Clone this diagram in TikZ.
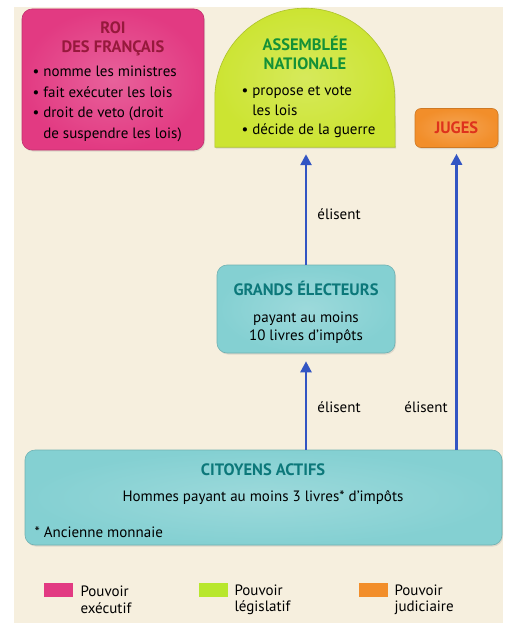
\documentclass[tikz,border=0pt]{standalone}
\usepackage{fontspec}
\setmainfont{PT Sans}
\usetikzlibrary{arrows.meta,positioning,shadows}
\definecolor{cbeige}{RGB}{246,239,222}
\definecolor{cpink}{RGB}{226,58,130}
\definecolor{cpinkt}{RGB}{150,25,60}
\definecolor{clime}{RGB}{204,228,50}
\definecolor{climet}{RGB}{20,145,55}
\definecolor{corange}{RGB}{242,142,42}
\definecolor{coranget}{RGB}{222,50,28}
\definecolor{cteal}{RGB}{132,208,210}
\definecolor{ctealt}{RGB}{12,120,122}
\definecolor{cblue}{RGB}{50,85,195}

\begin{document}
\begin{tikzpicture}[x=1pt,y=-1pt,>={Triangle[length=11pt,width=11pt]},
  box/.style={rounded corners=10pt,draw=#1!85!black,inner color=#1!80!white,outer color=#1,
    line width=0.6pt,drop shadow={opacity=0.2,shadow xshift=1pt,shadow yshift=-1.5pt}},
  title node/.style={font=\bfseries\fontsize{16.5}{19}\selectfont,align=center},
  list node/.style={font=\fontsize{15}{20.5}\selectfont,align=left,anchor=west},
  vote/.style={font=\fontsize{15}{17}\selectfont},
  key box/.style={minimum width=29pt,minimum height=14pt,inner sep=0pt},
  key text/.style={font=\fontsize{15}{16.5}\selectfont,align=left,anchor=west},
  link/.style={->,draw=cblue,line width=2.5pt}]
  \path[fill=white] (0,0) rectangle (508,626);
  \fill[cbeige] (14,7) rectangle (503,623);

  % executive
  \node[box=cpink,minimum width=182pt,minimum height=141pt] (roi) at (113,79.5) {};
  \node[title node,text=cpinkt] (roititle) at (113,38.5) {ROI\\DES FRANÇAIS};
  \node[list node] (roilist) at (29,104) {• nomme les ministres\\• fait exécuter les lois\\
    • droit de veto (droit\\\hphantom{• }de suspendre les lois)};

  % legislative
  \node[minimum width=180pt,minimum height=139pt] (assemblee) at (305,77.5) {};
  \path[draw=clime!85!black,inner color=clime!80!white,outer color=clime,line width=0.6pt,
    drop shadow={opacity=0.2,shadow xshift=1pt,shadow yshift=-1.5pt}]
    (assemblee.south west) -- ++(0,-49)
    arc[start angle=180,end angle=0,x radius=90pt,y radius=90pt]
    -- (assemblee.south east) -- cycle;
  \node[title node,text=climet] (assembleetitle) at (305,53) {ASSEMBLÉE\\NATIONALE};
  \node[list node,font=\fontsize{15}{19.5}\selectfont] (assembleelist) at (238,112)
    {• propose et vote\\\hphantom{• }les lois\\• décide de la guerre};

  % judiciary
  \node[box=corange,rounded corners=6pt,minimum width=83pt,minimum height=39pt,
    title node,text=coranget] (juges) at (456.5,128) {JUGES};

  % electors
  \node[box=cteal,minimum width=178pt,minimum height=88pt] (grands) at (306,309) {};
  \node[title node,text=ctealt] (grandstitle) at (306,288) {GRANDS ÉLECTEURS};
  \node[list node,anchor=center,align=center,font=\fontsize{15}{18}\selectfont]
    (grandstext) at (306,327.5) {payant au moins\\10 livres d'impôts};

  \node[box=cteal,minimum width=477pt,minimum height=95pt] (citoyens) at (263.5,497.5) {};
  \node[title node,text=ctealt] (citoyenstitle) at (263,470) {CITOYENS ACTIFS};
  \node[list node,anchor=center] (citoyenstext) at (263,498)
    {Hommes payant au moins 3 livres* d'impôts};
  \node[list node] (note) at (31,532) {* Ancienne monnaie};

  % votes
  \draw[link,shorten >=8pt] (citoyens.north -| grands) -- (grands.south);
  \draw[link,shorten >=7pt] (grands.north) -- (grands.north |- assemblee.south);
  \draw[link,shorten >=6pt] (citoyens.north -| juges) -- (juges.south);
  \node[vote] (vote1) at (339,214) {élisent};
  \node[vote] (vote2) at (339,407) {élisent};
  \node[vote] (vote3) at (426,407) {élisent};

  % key
  \node[key box,fill=cpink] (kexec) at (58.5,590) {};
  \node[key text] (kexectext) at (77,600) {Pouvoir\\exécutif};
  \node[key box,fill=clime!90!green] (kleg) at (213.5,590) {};
  \node[key text] (klegtext) at (231,600) {Pouvoir\\législatif};
  \node[key box,fill=corange] (kjud) at (373,590) {};
  \node[key text] (kjudtext) at (391,600) {Pouvoir\\judiciaire};
\end{tikzpicture}
\end{document}
